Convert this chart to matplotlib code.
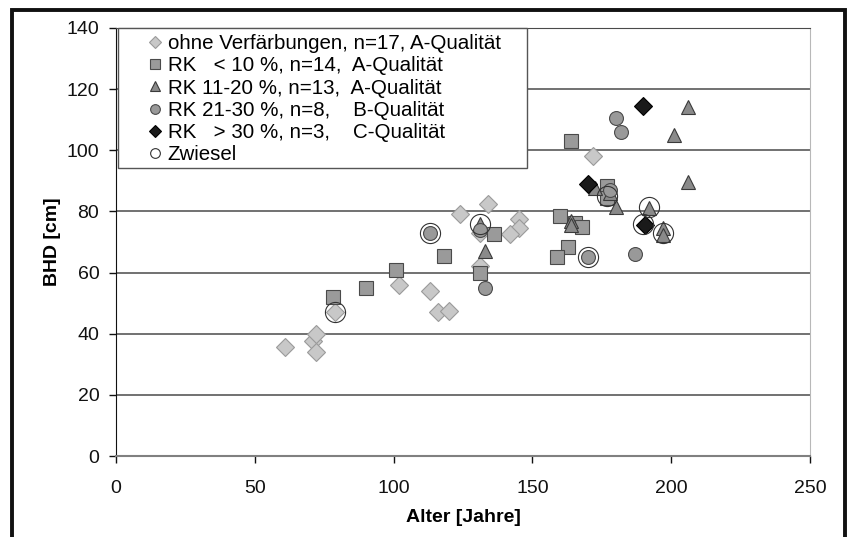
import matplotlib
matplotlib.use("Agg")
import matplotlib.pyplot as plt
from matplotlib.lines import Line2D
from matplotlib.patches import Rectangle

plt.rcParams["font.family"] = ["Liberation Sans", "DejaVu Sans"]

# ohne Verfärbungen, n=17, A-Qualität
ohne_x = [61, 71, 72, 72, 79, 102, 113, 116, 120, 124, 134, 131, 145, 145, 142, 172, 131]
ohne_y = [35.5, 37.5, 40, 34, 47, 56, 54, 47, 47.5, 79, 82.5, 62, 77.5, 74.5, 72.5, 98, 73]

# RK < 10 %, n=14
rk10_x = [78, 90, 101, 118, 131, 136, 164, 160, 165.5, 168, 163, 159, 177, 177]
rk10_y = [52, 55, 61, 65.5, 60, 72.5, 103, 78.5, 76.3, 75, 68.5, 65, 88.3, 84.3]

# RK 11-20 %, n=13
rk20_x = [131, 133, 172.5, 180, 164, 164, 192, 197, 197, 201, 206, 206, 178]
rk20_y = [76, 67, 87.7, 81.5, 77, 75.5, 81, 74.5, 72.3, 105, 114, 89.5, 86]

# RK 21-30 %, n=8
rk30_x = [113, 131, 133, 180, 182, 178, 170, 187]
rk30_y = [72.8, 74, 55, 110.5, 106, 87, 65, 66]

# RK > 30 %, n=3
rk_gt_x = [190, 170, 190.5]
rk_gt_y = [114.5, 89, 75.5]

# Zwiesel
zw_x = [79, 113, 131, 170, 177, 192, 190, 197]
zw_y = [47, 72.8, 76, 65, 85, 81.5, 76, 73]

labels = [
    "ohne Verfärbungen, n=17, A-Qualität",
    "RK   < 10 %, n=14,  A-Qualität",
    "RK 11-20 %, n=13,  A-Qualität",
    "RK 21-30 %, n=8,    B-Qualität",
    "RK   > 30 %, n=3,    C-Qualität",
    "Zwiesel",
]

styles = [
    dict(marker="D", ms=9, mfc="#c8c8c8", mec="#9a9a9a", mew=0.8),
    dict(marker="s", ms=10, mfc="#9a9a9a", mec="#4a4a4a", mew=0.8),
    dict(marker="^", ms=10, mfc="#8a8a8a", mec="#3a3a3a", mew=0.8),
    dict(marker="o", ms=10, mfc="#999999", mec="#4a4a4a", mew=0.8),
    dict(marker="D", ms=9, mfc="#1a1a1a", mec="#000000", mew=0.8),
    dict(marker="o", ms=14.5, mfc="none", mec="#333333", mew=0.8),
]
legend_ms = [6.5, 7, 7.5, 7, 6.5, 7]
series = [(ohne_x, ohne_y), (rk10_x, rk10_y), (rk20_x, rk20_y),
          (rk30_x, rk30_y), (rk_gt_x, rk_gt_y), (zw_x, zw_y)]

fig = plt.figure(figsize=(8.47, 5.37), dpi=100)
ax = fig.add_axes([0.137, 0.1508, 0.8193, 0.7971])

for (xs, ys), st in zip(series, styles):
    ax.plot(xs, ys, linestyle="none", **st)

ax.set_xlim(0, 250)
ax.set_ylim(0, 140)
ax.set_xticks(range(0, 251, 50))
ax.set_yticks(range(0, 141, 20))
ax.yaxis.grid(True, color="#4a4a4a", linewidth=1.1)
ax.set_axisbelow(True)

ax.spines["left"].set_color("#111111")
ax.spines["bottom"].set_color("#808080")
ax.spines["bottom"].set_linewidth(1.5)
ax.spines["top"].set_color("#4a4a4a")
ax.spines["right"].set_color("#b8b8b8")
ax.tick_params(direction="out", length=5, width=1, colors="#111111", labelsize=14)
ax.tick_params(axis="y", pad=7)
ax.tick_params(axis="x", pad=12)

ax.set_xlabel("Alter [Jahre]", fontsize=14, fontweight="bold", labelpad=9)
ax.set_ylabel("BHD [cm]", fontsize=14, fontweight="bold", labelpad=4)

# legend box (frame drawn separately so the marker inset matches)
ax.add_patch(Rectangle((0.0029, 0.673), 0.589, 0.327, transform=ax.transAxes,
                       facecolor="white", edgecolor="#555555", linewidth=1.0,
                       zorder=5, clip_on=False))

handles = []
for st, ms in zip(styles, legend_ms):
    hst = dict(st)
    hst["ms"] = ms
    handles.append(Line2D([], [], linestyle="none", **hst))
leg = ax.legend(handles, labels, loc="upper left", bbox_to_anchor=(0.0447, 0.986),
                borderaxespad=0, frameon=False, fontsize=14.8, handlelength=0.8,
                handletextpad=0.2, labelspacing=0.16, borderpad=0)
leg.set_zorder(6)

# outer frame of the figure
fig.patches.append(Rectangle((0.0142, -0.05), 0.9834, 1.0314, transform=fig.transFigure,
                             fill=False, edgecolor="#111111", linewidth=2.8))

fig.savefig("out.png", dpi=100)
